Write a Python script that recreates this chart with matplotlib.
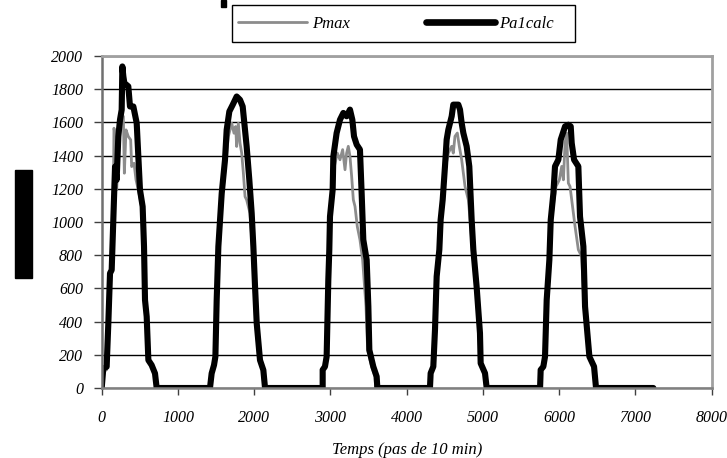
import matplotlib
matplotlib.use("Agg")
import matplotlib.pyplot as plt
from matplotlib.patches import Rectangle

# ---- data (time step index, power) ----
pa1_x = [0, 21, 65, 87, 109, 131, 153, 175, 196, 218, 240, 262, 271, 284, 297, 349, 371, 415, 459, 480, 502, 537, 555, 568, 590, 612, 655, 699, 721,
         1420, 1442, 1473, 1491, 1508, 1530, 1574, 1617, 1639, 1674, 1718, 1770, 1814, 1849, 1866, 1901, 1936, 1967, 1989, 2011, 2033, 2076, 2120, 2142,
         2898, 2898, 2928, 2950, 2963, 2972, 2985, 2994, 3029, 3038, 3081, 3125, 3169, 3212, 3256, 3287, 3309, 3344, 3387, 3409, 3431, 3475, 3497, 3510, 3562, 3606, 3615,
         4305, 4314, 4349, 4371, 4393, 4428, 4445, 4472, 4502, 4524, 4546, 4590, 4611, 4677, 4699, 4721, 4743, 4786, 4821, 4852, 4874, 4917, 4961, 4970, 5027, 5049,
         5749, 5757, 5792, 5814, 5836, 5871, 5889, 5924, 5945, 5989, 6020, 6077, 6120, 6151, 6164, 6195, 6251, 6273, 6317, 6339, 6369, 6396, 6457, 6483, 7235]
pa1_y = [0, 118, 128, 390, 691, 711, 1013, 1334, 1254, 1515, 1616, 1676, 1937, 1877, 1837, 1817, 1696, 1696, 1596, 1395, 1194, 1093, 852, 530, 430, 168, 138, 88, 0,
         0, 88, 138, 189, 530, 852, 1173, 1374, 1555, 1666, 1706, 1756, 1736, 1696, 1616, 1455, 1254, 1053, 852, 611, 390, 168, 108, 0,
         0, 109, 129, 189, 451, 652, 833, 1033, 1194, 1395, 1536, 1616, 1657, 1637, 1677, 1616, 1516, 1466, 1436, 1174, 893, 772, 491, 229, 129, 69, 0,
         0, 89, 129, 350, 672, 833, 1013, 1134, 1335, 1496, 1556, 1637, 1707, 1707, 1677, 1596, 1536, 1456, 1335, 1013, 833, 611, 330, 149, 89, 0,
         0, 109, 129, 189, 531, 772, 1013, 1174, 1335, 1375, 1496, 1576, 1586, 1576, 1476, 1375, 1335, 1033, 853, 491, 330, 189, 129, 0, 0]

pmax_x = [0, 21, 65, 87, 109, 131, 150, 161, 188, 196, 240, 284, 297, 319, 349, 380, 393, 424, 450, 480, 524, 546, 559, 581, 603, 647, 690, 712,
          1420, 1451, 1482, 1500, 1517, 1543, 1587, 1630, 1661, 1705, 1735, 1757, 1770, 1792, 1814, 1836, 1858, 1880, 1901, 1945, 1976, 1998, 2020, 2063, 2107, 2129,
          2898, 2906, 2937, 2959, 2972, 2981, 2994, 3003, 3038, 3051, 3090, 3125, 3160, 3191, 3212, 3234, 3256, 3278, 3300, 3322, 3352, 3387, 3422, 3466, 3488, 3540, 3584, 3593,
          4305, 4323, 4358, 4380, 4402, 4437, 4454, 4480, 4511, 4546, 4590, 4611, 4633, 4664, 4690, 4721, 4743, 4765, 4808, 4839, 4865, 4909, 4948, 4961, 5014, 5036,
          5749, 5766, 5801, 5823, 5845, 5880, 5902, 5932, 5958, 6002, 6033, 6055, 6077, 6098, 6120, 6142, 6164, 6208, 6251, 6295, 6326, 6361, 6387, 6448, 6470, 7235]
pmax_y = [0, 100, 110, 380, 680, 700, 1000, 1565, 1495, 1194, 1575, 1636, 1294, 1555, 1515, 1495, 1334, 1354, 1254, 1194, 1093, 852, 530, 430, 168, 138, 88, 0,
          0, 88, 138, 189, 530, 852, 1173, 1374, 1515, 1595, 1535, 1575, 1455, 1595, 1475, 1415, 1294, 1153, 1133, 1053, 852, 611, 390, 168, 108, 0,
          0, 109, 129, 189, 451, 652, 833, 1033, 1194, 1335, 1415, 1375, 1436, 1315, 1415, 1456, 1395, 1275, 1134, 1094, 973, 893, 772, 491, 229, 129, 69, 0,
          0, 89, 129, 350, 672, 833, 1013, 1134, 1335, 1415, 1456, 1415, 1516, 1536, 1456, 1375, 1295, 1214, 1134, 973, 812, 591, 330, 149, 89, 0,
          0, 109, 129, 189, 531, 772, 1013, 1134, 1214, 1254, 1335, 1254, 1476, 1536, 1234, 1214, 1134, 973, 833, 792, 491, 330, 189, 129, 0, 0]

x_ticks = [0, 1000, 2000, 3000, 4000, 5000, 6000, 7000, 8000]
y_ticks = [0, 200, 400, 600, 800, 1000, 1200, 1400, 1600, 1800, 2000]
series_names = ["Pmax", "Pa1calc"]
x_label = "Temps (pas de 10 min)"

# ---- figure ----
plt.rcParams['font.family'] = ['Liberation Serif', 'DejaVu Serif']
plt.rcParams['font.style'] = 'italic'

fig = plt.figure(figsize=(7.27, 4.58), dpi=100)
ax = fig.add_axes([101.7/727, 1-388/458, 610/727, 332/458])

ax.plot(pmax_x, pmax_y, color='#8c8c8c', lw=2.0, label=series_names[0], solid_joinstyle='round')
ax.plot(pa1_x, pa1_y, color='black', lw=4.4, label=series_names[1], solid_joinstyle='round', solid_capstyle='round')

ax.set_xlim(0, 8000)
ax.set_ylim(0, 2000)
ax.set_xticks(x_ticks)
ax.set_yticks(y_ticks)
ax.set_xticklabels([str(v) for v in x_ticks], fontsize=11.5, style='italic')
ax.set_yticklabels([str(v) for v in y_ticks], fontsize=11.5, style='italic')

ax.yaxis.grid(True, color='black', lw=1.0)
ax.set_axisbelow(True)

for s in ['top', 'right']:
    ax.spines[s].set_color('#a0a0a0')
    ax.spines[s].set_linewidth(2.0)
ax.spines['left'].set_color('#707070')
ax.spines['left'].set_linewidth(1.8)
ax.spines['bottom'].set_color('#808080')
ax.spines['bottom'].set_linewidth(1.8)

ax.tick_params(axis='y', direction='out', length=6, width=1, color='#404040', pad=7.5)
ax.tick_params(axis='x', direction='out', length=5, width=1, color='#404040', pad=11)

ax.set_xlabel(x_label, fontsize=12, style='italic', labelpad=11)

# legend frame drawn as a figure rectangle, legend entries placed inside it
fig.patches.append(Rectangle((231.7/727, 1-42/458), (575-231.7)/727, 37/458, transform=fig.transFigure,
                             facecolor='white', edgecolor='black', lw=1.0, zorder=1))
leg = fig.legend(loc='upper left', bbox_to_anchor=(231.7/727, 1-9/458),
                 ncol=2, borderaxespad=0, fontsize=12, handlelength=4.1,
                 handletextpad=0.3, columnspacing=4.6, frameon=False, borderpad=0.4)
leg.set_zorder(5)
for h in leg.legend_handles:
    h.set_solid_capstyle('round')
leg.legend_handles[1].set_linewidth(4.8)

# redaction marks present on the source image
fig.patches.append(Rectangle((15/727, 1-278/458), 17/727, 108/458, transform=fig.transFigure,
                             color='black', zorder=10))
fig.patches.append(Rectangle((221/727, 1-7/458), 5/727, 7/458, transform=fig.transFigure,
                             color='black', zorder=10))

fig.savefig('out.png', dpi=100)
